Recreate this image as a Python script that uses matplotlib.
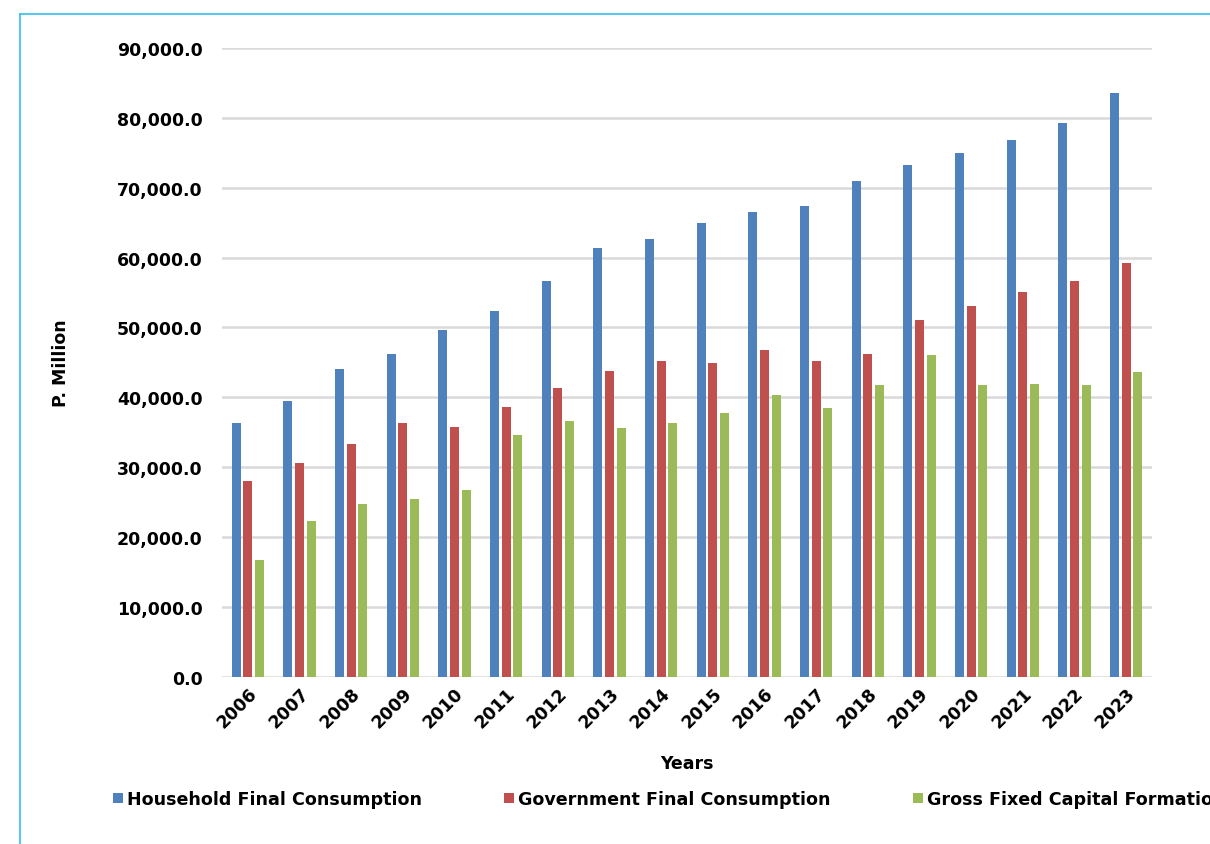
import numpy as np
import matplotlib
matplotlib.use('Agg')
import matplotlib.pyplot as plt
from matplotlib.lines import Line2D
from matplotlib.ticker import FuncFormatter

years = ['2006', '2007', '2008', '2009', '2010', '2011', '2012', '2013', '2014',
         '2015', '2016', '2017', '2018', '2019', '2020', '2021', '2022', '2023']
household = [36300, 39500, 44000, 46200, 49700, 52300, 56700, 61400, 62600,
             64900, 66500, 67400, 71000, 73200, 75000, 76900, 79200, 83600]
government = [28050, 30550, 33300, 36300, 35800, 38600, 41300, 43700, 45200,
              44900, 46800, 45200, 46200, 51000, 53000, 55100, 56600, 59200]
capital = [16700, 22300, 24700, 25400, 26700, 34600, 36600, 35600, 36300,
           37700, 40300, 38400, 41700, 46000, 41700, 41900, 41800, 43550]

series_names = ['Household Final Consumption', 'Government Final Consumption',
                'Gross Fixed Capital Formation']
colors = ['#4F81BD', '#C0504D', '#9BBB59']

plt.rcParams['font.family'] = ['DejaVu Sans']
plt.rcParams['font.weight'] = 'bold'

fig = plt.figure(figsize=(12.1, 8.45), dpi=100)
ax = fig.add_axes([0.1835, 0.198, 0.7685, 0.744])

x = np.arange(len(years))
step = 0.226
width = 0.175
bars = []
for i, vals in enumerate([household, government, capital]):
    b = ax.bar(x + (i - 1) * step, vals, width, color=colors[i], zorder=3,
               label=series_names[i])
    bars.append(b)

ax.set_xlim(-0.5, len(years) - 0.5)
ax.set_ylim(0, 90000)
ax.set_yticks(np.arange(0, 90001, 10000))
ax.yaxis.set_major_formatter(FuncFormatter(lambda v, p: f'{v:,.1f}'))
ax.grid(axis='y', color='#D9D9D9', linewidth=1.8, zorder=0)
ax.tick_params(axis='both', length=0, labelsize=12.5)
ax.tick_params(axis='y', pad=14)
ax.tick_params(axis='x', pad=5)
for s in ax.spines.values():
    s.set_visible(False)

ax.set_xticks(x)
ax.set_xticklabels(years, rotation=45, ha='right', rotation_mode='anchor',
                   fontweight='bold')
for lbl in ax.get_yticklabels():
    lbl.set_fontweight('bold')

ax.set_xlabel('Years', fontsize=12.5, fontweight='bold', labelpad=17)
ax.set_ylabel('P. Million', fontsize=12.5, fontweight='bold', labelpad=34)

fig.legend(handles=bars, labels=series_names, loc='center left',
           bbox_to_anchor=(0.08, 0.053), ncol=3, frameon=False,
           handlelength=0.58, handleheight=0.58,
           handletextpad=0.22, columnspacing=4.7,
           prop={'weight': 'bold', 'size': 12.6})

# frame lines at top and left
fig.add_artist(Line2D([20 / 1210, 1], [1 - 15 / 845, 1 - 15 / 845],
                      color='#33BFF0', linewidth=1.2))
fig.add_artist(Line2D([20 / 1210, 20 / 1210], [0, 1 - 15 / 845],
                      color='#33BFF0', linewidth=1.2))

plt.savefig('out.png', dpi=100)
